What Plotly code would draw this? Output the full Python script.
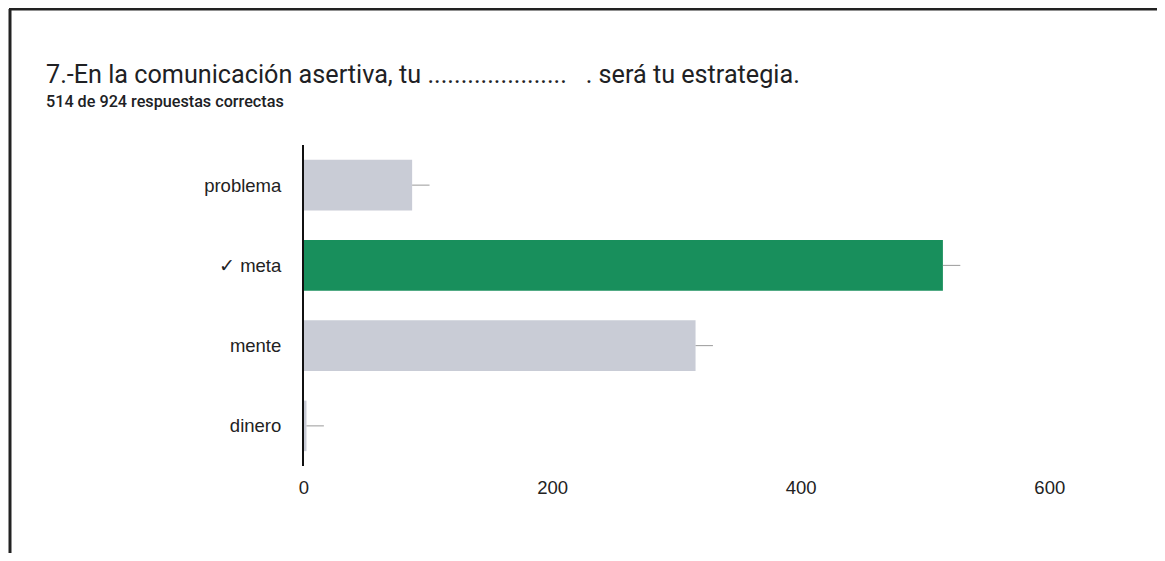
import plotly.graph_objects as go

# values
opciones = ["problema", "✓ meta", "mente", "dinero"]
respuestas = [87, 514, 315, 2]
correcta = "✓ meta"
ticks_x = [0, 200, 400, 600]

titulo = "7.-En la comunicación asertiva, tu .....................\u00a0\u00a0\u00a0. será tu estrategia."
subtitulo = "514 de 924 respuestas correctas"

# the page body has an 8px margin, so the figure is drawn 8px in from the window corner
OFF = 8
W, H = 1165 - 2 * OFF, 561 - 2 * OFF
# plot area, window pixels
X0, X1, Y0, Y1 = 304, 1112, 145, 466
L, R, T, B = X0 - OFF, W - (X1 - OFF), Y0 - OFF, H - (Y1 - OFF)
pw, ph = W - L - R, H - T - B


def px(x):
    return (x - X0) / pw


def py(y):
    return (Y1 - y) / ph


colores = ["#188f5c" if o == correcta else "#c9ccd6" for o in opciones]

fig = go.Figure()
fig.add_bar(
    y=opciones,
    x=respuestas,
    orientation="h",
    marker={"color": colores, "line": {"width": 0}},
    error_x={
        "type": "data",
        "symmetric": False,
        "array": [14] * len(respuestas),
        "arrayminus": [0] * len(respuestas),
        "color": "#9a9a9a",
        "thickness": 1,
        "width": 0,
    },
    hoverinfo="x+y",
)

fig.update_layout(
    width=W,
    height=H,
    margin={"l": L, "r": R, "t": T, "b": B},
    paper_bgcolor="white",
    plot_bgcolor="white",
    showlegend=False,
    bargap=0.37,
    font={"family": "Liberation Sans, Arial, sans-serif", "size": 18.5, "color": "#222222"},
    xaxis={
        "range": [0, pw / 1.243],
        "tickvals": ticks_x,
        "showgrid": False,
        "zeroline": False,
        "showline": False,
        "ticks": "outside",
        "ticklen": 5,
        "tickcolor": "rgba(0,0,0,0)",
        "tickfont": {"size": 18.5},
    },
    yaxis={
        "autorange": "reversed",
        "showgrid": False,
        "zeroline": False,
        "showline": True,
        "linecolor": "#111111",
        "linewidth": 2,
        "ticks": "outside",
        "ticklen": 17,
        "tickcolor": "rgba(0,0,0,0)",
        "tickfont": {"size": 18.5},
    },
    annotations=[
        {
            "text": titulo,
            "xref": "paper",
            "yref": "paper",
            "x": px(44),
            "y": py(74),
            "xanchor": "left",
            "yanchor": "middle",
            "showarrow": False,
            "font": {"family": "Roboto, sans-serif", "size": 25.2, "color": "#202124"},
        },
        {
            "text": subtitulo,
            "xref": "paper",
            "yref": "paper",
            "x": px(44),
            "y": py(101),
            "xanchor": "left",
            "yanchor": "middle",
            "showarrow": False,
            "font": {"family": "Roboto, sans-serif", "size": 16.2, "color": "#202124", "weight": 500},
        },
    ],
    shapes=[
        # card frame from the scan
        {"type": "line", "xref": "paper", "yref": "paper", "x0": px(9), "x1": px(1165), "y0": py(9), "y1": py(9),
         "line": {"color": "#222222", "width": 3}},
        {"type": "line", "xref": "paper", "yref": "paper", "x0": px(10), "x1": px(10), "y0": py(9), "y1": py(561),
         "line": {"color": "#222222", "width": 3}},
    ],
)

fig.write_html("out.html")
